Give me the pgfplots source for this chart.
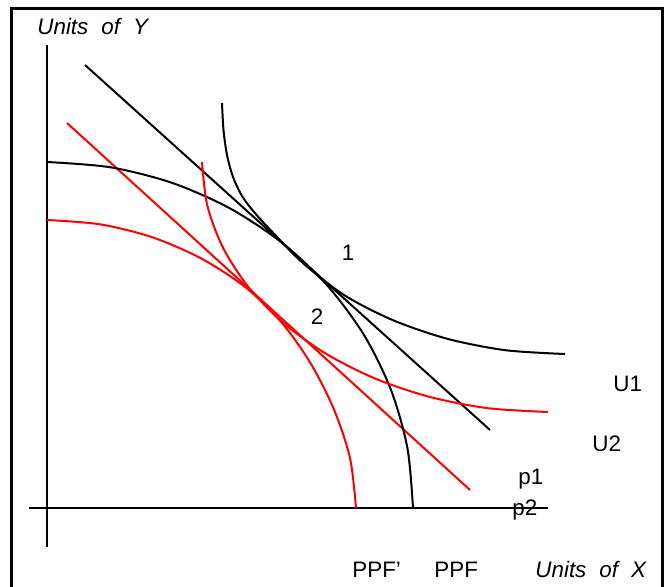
\documentclass[border=0pt]{standalone}
\usepackage{fontspec}
\setmainfont{Liberation Sans}
\usepackage{pgfplots}
\pgfplotsset{compat=1.18}
\tikzset{lab/.style={font=\fontsize{11.2}{13}\selectfont, inner sep=0pt}}
\begin{document}
\begin{tikzpicture}
\begin{axis}[
  x=0.5pt, y=0.5pt, xmin=0, xmax=665, ymin=0, ymax=587, y dir=reverse,
  axis line style={draw=none}, xtick=\empty, ytick=\empty,
  every axis plot/.append style={line width=1pt, mark=none},
]
% frame
\addplot[black, line width=1.6pt] coordinates {(11.5,600) (11.5,8.5) (662.5,8.5) (662.5,600)};
% axes
\addplot[black] coordinates {(47,45) (47,547)};
\addplot[black] coordinates {(29,508) (548,508)};
% price lines
\addplot[black] coordinates {(85,65) (490,430)};
\addplot[red] coordinates {(67,123) (470,490)};
% PPF
\addplot[black, smooth] coordinates {(47,162) (110.5,167.3) (172.2,182.9) (230,208.4) (282.3,243) (327.4,285.6) (364,335) (390.9,389.7) (407.4,447.9) (413,508)};
% PPF'
\addplot[red, smooth] coordinates {(47,220) (100.6,224.4) (152.7,237.4) (201.5,258.6) (245.6,287.4) (282,322.9) (311,364) (334,409.5) (350,458) (356,508)};
% U1
\addplot[black, smooth] coordinates {(222,103) (223.5,130) (227,155) (233,177) (242,196) (254,212) (270,229.5) (302.3,262.5) (344.5,295.3) (393.5,320.4) (447.7,338.9) (505.4,350.2) (565,354)};
% U2
\addplot[red, smooth] coordinates {(202,162) (207.3,205.4) (222.9,247.5) (248.4,287) (283,322.7) (325.6,353.5) (375,378.5) (429.7,396.9) (487.9,408.2) (548,412)};
% labels
\node[lab, anchor=base west] at (axis cs:37,35) {\itshape Units\hspace{6.5pt}of\hspace{6.5pt}Y};
\node[lab, anchor=base west] at (axis cs:535,578) {\itshape Units\hspace{6.5pt}of\hspace{6.5pt}X};
\node[lab, anchor=base west] at (axis cs:352,578) {PPF’};
\node[lab, anchor=base west] at (axis cs:434,578) {PPF};
\node[lab] at (axis cs:348,253) {1};
\node[lab] at (axis cs:317,317) {2};
\node[lab, anchor=base west] at (axis cs:613,392) {U1};
\node[lab, anchor=base west] at (axis cs:592,452) {U2};
\node[lab, anchor=base west] at (axis cs:518,485) {p1};
\node[lab, anchor=base west] at (axis cs:512,516) {p2};
\end{axis}
\end{tikzpicture}
\end{document}
